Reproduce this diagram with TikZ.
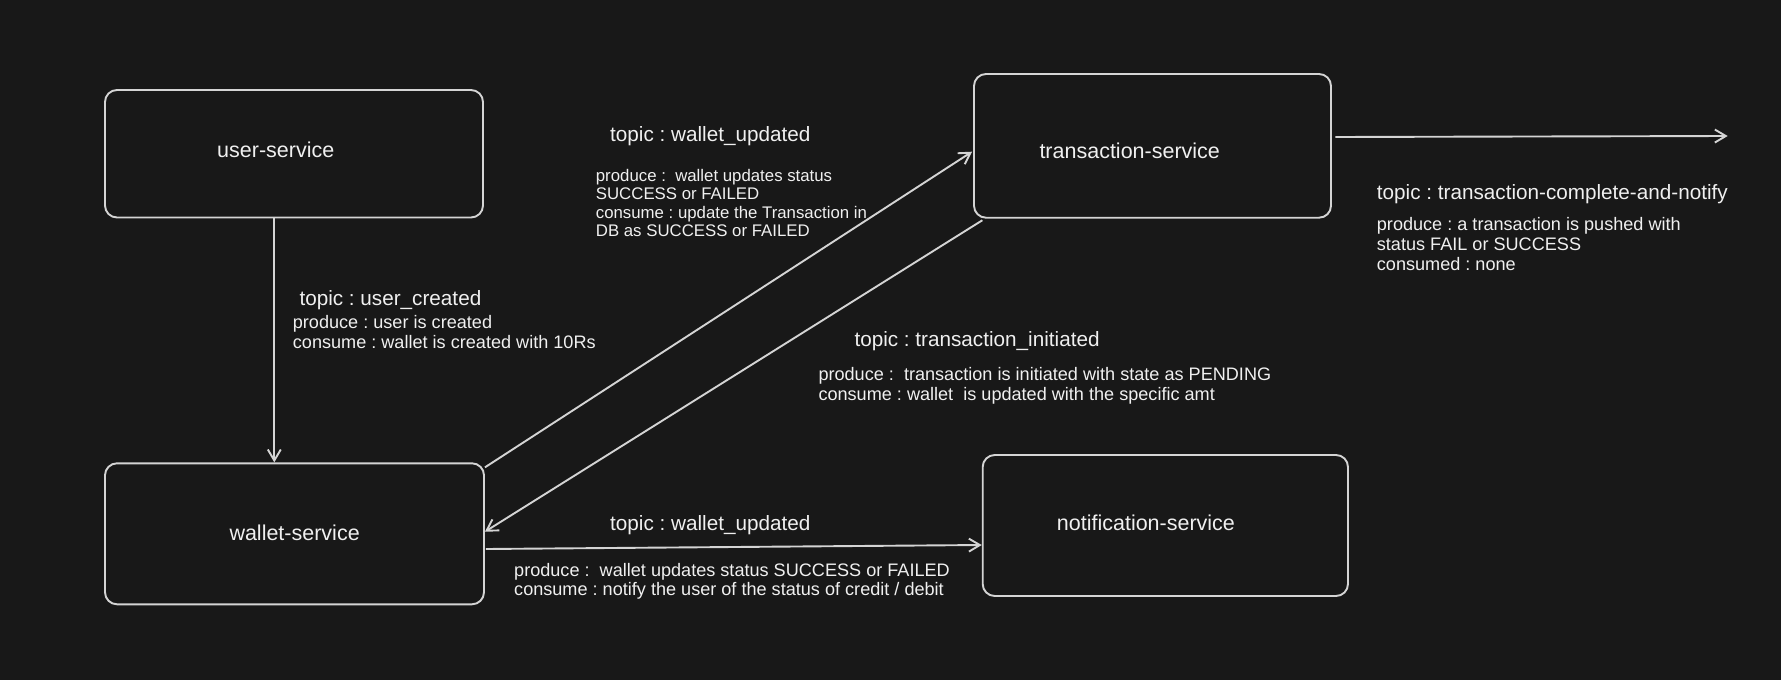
\documentclass[tikz,border=0pt]{standalone}
\usepackage{fontspec}
\setmainfont{Liberation Sans}
\usetikzlibrary{arrows.meta}
\definecolor{bg}{HTML}{181818}
\definecolor{ink}{HTML}{D4D4D4}
\definecolor{txt}{HTML}{F0F0F0}
\newcommand\tblock[2]{\vtop{\baselineskip=#1\relax\lineskiplimit=-100pt\relax #2}}
\newcommand\oneline[1]{\hbox{\strut#1}}
\frenchspacing
\begin{document}
\frenchspacing
\begin{tikzpicture}[x=1pt,y=-1pt,
  svc/.style={draw=ink, line width=1.9pt, rounded corners=12pt, inner sep=0pt},
  svclabel/.style={anchor=base west, inner sep=0pt, text=txt, font=\fontsize{21.5}{26}\selectfont},
  topic/.style={anchor=base west, inner sep=0pt, text=txt, font=\fontsize{20.7}{25}\selectfont},
  body/.style={anchor=base west, inner sep=0pt, text=txt, font=\fontsize{18.1}{19.6}\selectfont},
  smallbody/.style={body, font=\fontsize{16.8}{18.5}\selectfont},
  flow/.style={draw=ink, line width=1.9pt, -{Straight Barb[length=11pt,width=13pt,line width=1.9pt]}},
]
\fill[bg] (0,0) rectangle (1781,680);
\useasboundingbox (0,0) rectangle (1781,680);

% service boxes
\node[svc, minimum width=378pt, minimum height=127.5pt] (user) at (294,153.75) {};
\node[svc, minimum width=379pt, minimum height=141pt] (wallet) at (294.5,533.8) {};
\node[svc, minimum width=357pt, minimum height=143.7pt] (trans) at (1152.5,145.85) {};
\node[svc, minimum width=365.3pt, minimum height=141pt] (notif) at (1165.35,525.5) {};

% service labels
\node[svclabel] (userlbl) at (217,157.7) {user-service};
\node[svclabel] (walletlbl) at (229.3,540.7) {wallet-service};
\node[svclabel] (translbl) at (1039.3,158.3) {transaction-service};
\node[svclabel] (notiflbl) at (1056.7,530) {notification-service};

% connectors
\coordinate (outend) at (1727.7,136);
\draw[flow] ([xshift=-19.7pt]user.south) -- ([xshift=-20.2pt]wallet.north);
\draw[flow] ([yshift=-5pt]wallet.north east) -- ([xshift=-1pt,yshift=-5.85pt]trans.west);
\draw[flow] ([xshift=9.3pt,yshift=-1.6pt]trans.south west) -- ([yshift=2.1pt]wallet.east);
\draw[flow] ([xshift=1pt,yshift=-15.2pt]wallet.east) -- ([yshift=-19.5pt]notif.west);
\draw[flow] ([xshift=3.3pt,yshift=8.85pt]trans.east) -- (outend);

% topic labels
\node[topic] (t1) at (299.3,305) {topic : user\_created};
\node[body] (b1) at (292.7,328) {\tblock{20pt}{\oneline{produce : user is created}\oneline{consume : wallet is created with 10Rs}}};

\node[topic] (t2) at (610,141) {topic : wallet\_updated};
\node[smallbody] (b2) at (595.7,181) {\tblock{18.5pt}{\oneline{produce : \ wallet updates status}\oneline{SUCCESS or FAILED}\oneline{consume : update the Transaction in}\oneline{DB as SUCCESS or FAILED}}};

\node[topic] (t3) at (854.3,346) {topic : transaction\_initiated};
\node[body] (b3) at (818.3,380.7) {\tblock{20pt}{\oneline{produce : \ transaction is initiated with state as PENDING}\oneline{consume : wallet \ is updated with the specific amt}}};

\node[topic] (t4) at (1376.7,199.3) {topic : transaction-complete-and-notify};
\node[body] (b4) at (1376.7,230.7) {\tblock{19.7pt}{\oneline{produce : a transaction is pushed with}\oneline{status FAIL or SUCCESS}\oneline{consumed : none}}};

\node[topic] (t5) at (610,530) {topic : wallet\_updated};
\node[body] (b5) at (514,576) {\tblock{19.7pt}{\oneline{produce : \ wallet updates status SUCCESS or FAILED}\oneline{consume : notify the user of the status of credit / debit}}};
\end{tikzpicture}
\end{document}
